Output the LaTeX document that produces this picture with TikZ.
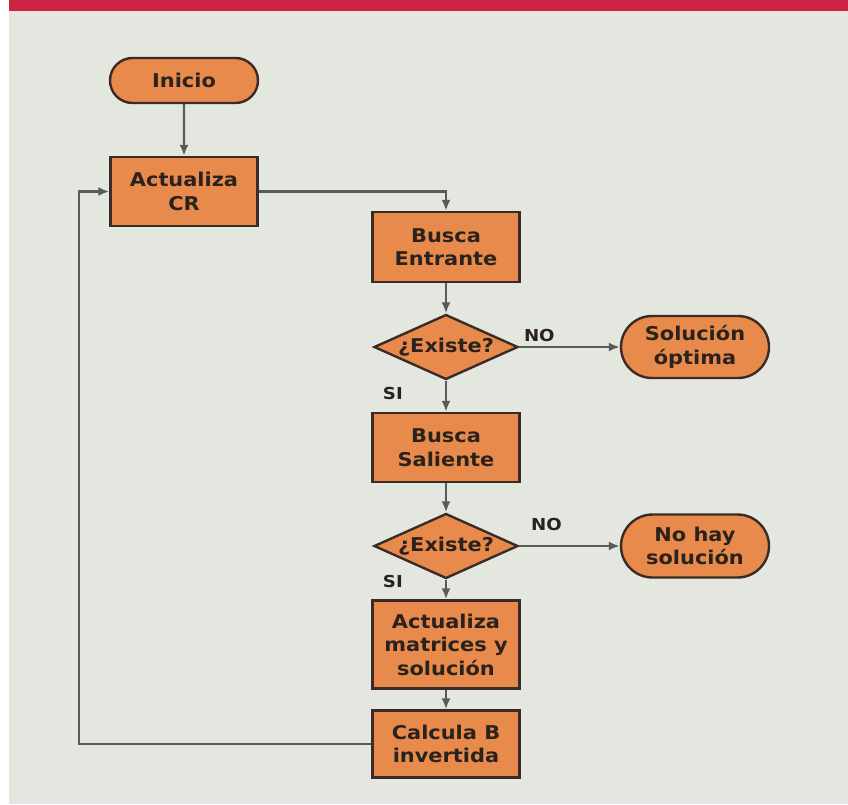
\documentclass[tikz,border=0pt]{standalone}
\usepackage{fontspec}
\setmainfont[FakeStretch=1.1]{DejaVu Sans}
\usetikzlibrary{shapes.geometric, shapes.misc, arrows.meta}
\definecolor{crimson}{HTML}{CC2342}
\definecolor{sage}{HTML}{E3E7E0}
\definecolor{tangerine}{HTML}{E88A4B}
\definecolor{umber}{HTML}{3A2C24}
\definecolor{ink}{HTML}{2A221C}
\definecolor{slate}{HTML}{5A5A5A}

\begin{document}
\begin{tikzpicture}[x=1pt, y=-1pt, >={Latex[length=11pt, width=9pt]}, thick]

% page
\fill[white] (0,0) rectangle (848,804);
\fill[sage] (9,0) rectangle (848,804);
\fill[crimson] (9,0) rectangle (848,11);
\useasboundingbox (0,0) rectangle (848,804);

\tikzstyle{every node}=[font=\fontsize{19}{23.5}\selectfont\bfseries, text=ink, draw=umber, line width=2.4pt, fill=tangerine, align=center, inner sep=0pt]
\tikzstyle{term}=[rounded rectangle, minimum width=148pt]
\tikzstyle{proc}=[rectangle, minimum width=147pt]
\tikzstyle{decision}=[diamond, aspect=2.25, minimum width=144pt, minimum height=65pt]
\tikzstyle{lbl}=[draw=none, fill=none, font=\fontsize{16.5}{19}\selectfont\bfseries]
\tikzstyle{flow}=[->, draw=slate, line width=2.2pt]

\draw (184, 80.5) node[term, minimum height=45pt] (inicio) {Inicio}
      (184, 191.5) node[proc, minimum height=69pt] (actcr) {Actualiza\\CR}
      (446, 247) node[proc, minimum height=70pt] (entrante) {Busca\\Entrante}
      (446, 347) node[decision] (exist1) {¿Existe?}
      (695, 347) node[term, minimum height=62pt] (solopt) {Solución\\óptima}
      (446, 447.5) node[proc, minimum height=69pt] (saliente) {Busca\\Saliente}
      (446, 546) node[decision] (exist2) {¿Existe?}
      (695, 546) node[term, minimum height=63pt] (nohay) {No hay\\solución}
      (446, 644.5) node[proc, minimum height=88pt] (actmat) {Actualiza\\matrices y\\solución}
      (446, 744) node[proc, minimum height=67pt] (calcb) {Calcula B\\invertida};

\coordinate (loop) at (79, 744);

\draw[flow] (inicio) -- (actcr);
\draw[flow] (actcr.east) -| (entrante.north);
\draw[flow] (entrante) -- (exist1);
\draw[flow] (exist1.east) -- node[lbl, pos=0.2, above=4pt] {NO} (solopt.west);
\draw[flow] (exist1.south) -- node[lbl, pos=0.4, left=42pt] {SI} (saliente.north);
\draw[flow] (saliente) -- (exist2);
\draw[flow] (exist2.east) -- node[lbl, pos=0.27, above=14pt] {NO} (nohay.west);
\draw[flow] (exist2.south) -- node[lbl, pos=0.1, left=42pt] {SI} (actmat.north);
\draw[flow] (actmat) -- (calcb);
\draw[flow] (calcb.west) -- (loop) |- (actcr.west);

\end{tikzpicture}
\end{document}
